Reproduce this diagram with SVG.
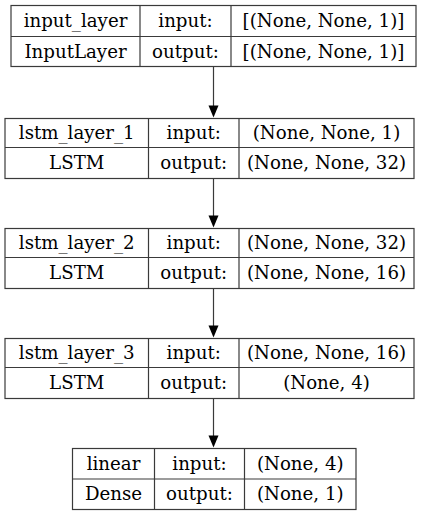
<svg xmlns="http://www.w3.org/2000/svg" width="428" height="516" viewBox="0 0 428 516">
  <defs>
    <marker id="head" viewBox="0 0 10 12" refX="5" refY="12" markerWidth="10" markerHeight="12" markerUnits="userSpaceOnUse" orient="auto-start-reverse">
      <polygon points="0,0 10,0 5,12" fill="#000"/>
    </marker>
  </defs>
  <style>
    .box { fill: #fff; stroke: #3a3a3a; stroke-width: 1.2; }
    .sep { stroke: #3a3a3a; stroke-width: 1.2; }
    text { font-family: "DejaVu Serif", "Liberation Serif", serif; font-size: 18.2px; fill: #000; text-anchor: middle; }
    .edge { stroke: #3a3a3a; stroke-width: 1.2; fill: none; }
  </style>
  <rect width="428" height="516" fill="#fff"/>

  <g id="connectors">
    <line class="edge" x1="213.5" y1="66.5" x2="213.5" y2="106"/>
    <polygon points="208.5,105.5 218.5,105.5 213.5,117.5" fill="#000"/>
    <line class="edge" x1="213.5" y1="178.5" x2="213.5" y2="216"/>
    <polygon points="208.5,215.5 218.5,215.5 213.5,227.5" fill="#000"/>
    <line class="edge" x1="213.5" y1="288.5" x2="213.5" y2="326"/>
    <polygon points="208.5,325.5 218.5,325.5 213.5,337.5" fill="#000"/>
    <line class="edge" x1="213.5" y1="398.5" x2="213.5" y2="436"/>
    <polygon points="208.5,435.5 218.5,435.5 213.5,447.5" fill="#000"/>
  </g>

  <g id="input_layer">
    <rect class="box" x="11" y="5.5" width="405" height="61"/>
    <line class="sep" x1="11" y1="36.5" x2="416" y2="36.5"/>
    <line class="sep" x1="140" y1="5.5" x2="140" y2="66.5"/>
    <line class="sep" x1="231" y1="5.5" x2="231" y2="66.5"/>
    <text x="75.5" y="26.5">input_layer</text>
    <text x="75.5" y="57.5">InputLayer</text>
    <text x="185.5" y="26.5">input:</text>
    <text x="185.5" y="57.5">output:</text>
    <text x="323.5" y="26.5">[(None, None, 1)]</text>
    <text x="323.5" y="57.5">[(None, None, 1)]</text>
  </g>

  <g id="lstm_layer_1">
    <rect class="box" x="5" y="118.5" width="409" height="60"/>
    <line class="sep" x1="5" y1="147.5" x2="414" y2="147.5"/>
    <line class="sep" x1="148.5" y1="118.5" x2="148.5" y2="178.5"/>
    <line class="sep" x1="239" y1="118.5" x2="239" y2="178.5"/>
    <text x="76.75" y="139">lstm_layer_1</text>
    <text x="76.75" y="169">LSTM</text>
    <text x="193.75" y="139">input:</text>
    <text x="193.75" y="169">output:</text>
    <text x="326.5" y="139">(None, None, 1)</text>
    <text x="326.5" y="169">(None, None, 32)</text>
  </g>

  <g id="lstm_layer_2">
    <rect class="box" x="5" y="228.5" width="409" height="60"/>
    <line class="sep" x1="5" y1="257.5" x2="414" y2="257.5"/>
    <line class="sep" x1="148.5" y1="228.5" x2="148.5" y2="288.5"/>
    <line class="sep" x1="239" y1="228.5" x2="239" y2="288.5"/>
    <text x="76.75" y="249">lstm_layer_2</text>
    <text x="76.75" y="279">LSTM</text>
    <text x="193.75" y="249">input:</text>
    <text x="193.75" y="279">output:</text>
    <text x="326.5" y="249">(None, None, 32)</text>
    <text x="326.5" y="279">(None, None, 16)</text>
  </g>

  <g id="lstm_layer_3">
    <rect class="box" x="5" y="338.5" width="409" height="60"/>
    <line class="sep" x1="5" y1="367.5" x2="414" y2="367.5"/>
    <line class="sep" x1="148.5" y1="338.5" x2="148.5" y2="398.5"/>
    <line class="sep" x1="239" y1="338.5" x2="239" y2="398.5"/>
    <text x="76.75" y="359">lstm_layer_3</text>
    <text x="76.75" y="389">LSTM</text>
    <text x="193.75" y="359">input:</text>
    <text x="193.75" y="389">output:</text>
    <text x="326.5" y="359">(None, None, 16)</text>
    <text x="326.5" y="389">(None, 4)</text>
  </g>

  <g id="linear">
    <rect class="box" x="72.5" y="448.5" width="283.5" height="61"/>
    <line class="sep" x1="72.5" y1="479" x2="356" y2="479"/>
    <line class="sep" x1="154.5" y1="448.5" x2="154.5" y2="509.5"/>
    <line class="sep" x1="244.5" y1="448.5" x2="244.5" y2="509.5"/>
    <text x="113.5" y="469.5">linear</text>
    <text x="113.5" y="500">Dense</text>
    <text x="199.5" y="469.5">input:</text>
    <text x="199.5" y="500">output:</text>
    <text x="300.25" y="469.5">(None, 4)</text>
    <text x="300.25" y="500">(None, 1)</text>
  </g>
</svg>
